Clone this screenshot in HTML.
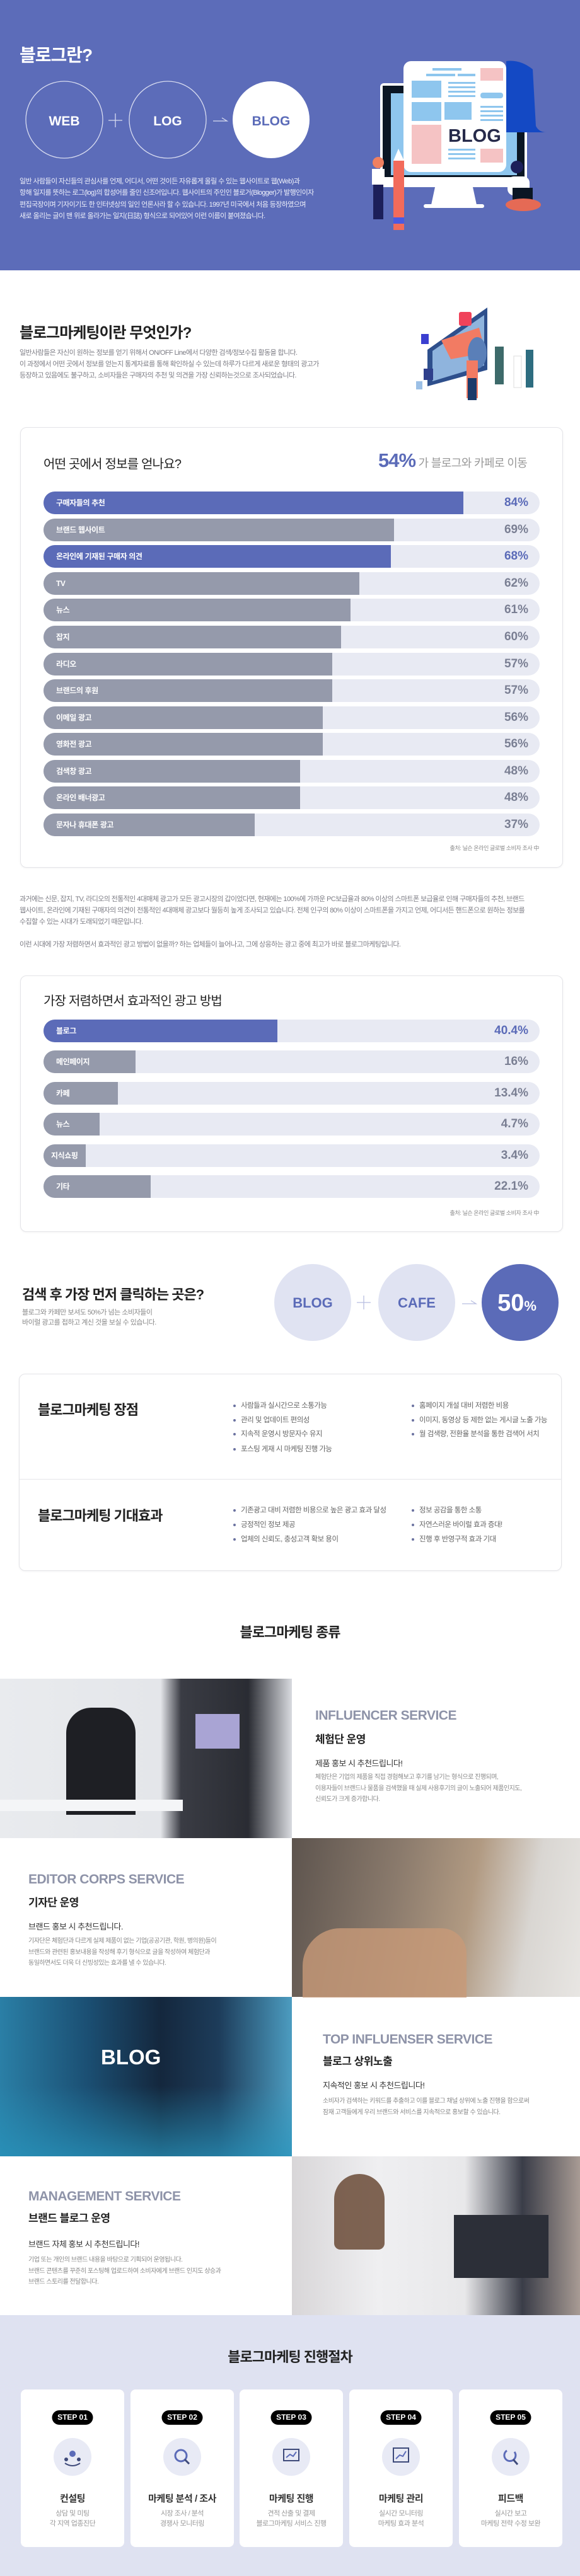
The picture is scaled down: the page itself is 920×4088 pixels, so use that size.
<!DOCTYPE html>
<html><head><meta charset="utf-8">
<style>
*{margin:0;padding:0;box-sizing:border-box}
body{width:920px;height:4088px;position:relative;background:#fff;font-family:"Liberation Sans","Noto Sans CJK KR",sans-serif;overflow:hidden}
.a{position:absolute;white-space:nowrap}
.hd{background:#5c6cb9;position:absolute;left:0;top:0;width:920px;height:429px}
.card{position:absolute;border:1px solid #e4e4e8;border-radius:10px;background:#fff;box-shadow:0 1px 3px rgba(0,0,0,.05)}
.tr{position:absolute;left:69px;width:787px;height:36px;border-radius:18px;background:#e8eaf3;overflow:hidden}
.fl{position:absolute;left:0;top:0;height:36px;background:#959aab}
.fl.b{background:#5b6bb8}
.lb{position:absolute;left:20px;top:0;line-height:36px;font-size:12px;color:#fff;font-weight:bold;letter-spacing:-0.4px}
.vl{position:absolute;right:18px;top:0;line-height:36px;font-size:19px;color:#7a7f93;font-weight:bold}
.vl.b{color:#5b6bb8}
.p{font-size:11px;color:#7d7d85;line-height:18px;letter-spacing:-0.6px}
.bl{font-size:11.5px;color:#666;line-height:18px;letter-spacing:-0.5px}
.bl:before{content:"";display:inline-block;width:4px;height:4px;border-radius:2px;background:#6b72a0;margin-right:8px;vertical-align:middle}
.st{font-size:21px;font-weight:bold;color:#8e93a8;letter-spacing:-0.5px}
.ss{font-size:17px;font-weight:bold;color:#222;letter-spacing:-0.5px}
.sr{font-size:13px;color:#333;letter-spacing:-0.5px}
.sd{font-size:10px;color:#888;line-height:17.5px;letter-spacing:-0.5px}
.sc{position:absolute;top:3792px;width:164px;height:250px;background:#fff;border-radius:8px}
.badge{position:absolute;left:50%;top:33px;transform:translateX(-50%);background:#000;color:#fff;font-size:12px;font-weight:bold;width:65px;height:23px;line-height:23px;border-radius:12px;text-align:center}
.ic{position:absolute;left:52px;top:77px;width:60px;height:60px;border-radius:30px;background:#e8eaf5}
.ct{position:absolute;left:0;width:164px;text-align:center;top:162px;font-size:15px;font-weight:bold;color:#333;letter-spacing:-0.5px}
.cd{position:absolute;left:0;width:164px;text-align:center;top:189px;font-size:11px;color:#999;line-height:16px;letter-spacing:-0.5px}
</style></head><body>

<div class="hd"></div>
<div class="a" style="left:31px;top:66px;font-size:28px;font-weight:bold;color:#fff;letter-spacing:-1px">블로그란?</div>
<svg class="a" style="left:0;top:0" width="920" height="430">
<circle cx="102" cy="190" r="61" fill="none" stroke="#d8dcf0" stroke-width="1.3"/>
<circle cx="266" cy="190" r="61" fill="none" stroke="#d8dcf0" stroke-width="1.3"/>
<circle cx="430" cy="190" r="61" fill="#fff"/>
<line x1="172" y1="191" x2="194" y2="191" stroke="#d8dcf0" stroke-width="1.3"/>
<line x1="183" y1="180" x2="183" y2="202" stroke="#d8dcf0" stroke-width="1.3"/>
<polyline points="338,192 360,192 352,187" fill="none" stroke="#d8dcf0" stroke-width="1.3"/>
<text x="102" y="199" font-size="21" font-weight="bold" fill="#fff" text-anchor="middle" font-family="Liberation Sans">WEB</text>
<text x="266" y="199" font-size="21" font-weight="bold" fill="#fff" text-anchor="middle" font-family="Liberation Sans">LOG</text>
<text x="430" y="199" font-size="21" font-weight="bold" fill="#5b6bb8" text-anchor="middle" font-family="Liberation Sans">BLOG</text>
<rect x="603" y="132" width="233" height="165" rx="6" fill="#fff"/>
<rect x="607" y="136" width="225" height="145" fill="#0b1624"/>
<rect x="620" y="148" width="200" height="130" fill="#8ec6ee"/>
<path d="M690 297 L750 297 L756 325 L684 325 Z" fill="#fff"/>
<rect x="672" y="324" width="96" height="6" rx="3" fill="#fff"/>
<path d="M803 97 Q825 94 845 110 L850 200 Q855 210 867 210 L803 210 Z" fill="#1449c4"/>
<rect x="640" y="97" width="163" height="176" rx="12" fill="#fff"/>
<rect x="653" y="128" width="47" height="27" fill="#8ec6ee"/>
<rect x="653" y="162" width="47" height="30" fill="#8ec6ee"/>
<rect x="705" y="162" width="43" height="28" fill="#8ec6ee"/>
<rect x="653" y="198" width="47" height="62" fill="#f5c3c4"/>
<rect x="762" y="108" width="36" height="20" fill="#f5c3c4"/>
<rect x="762" y="236" width="36" height="22" fill="#f5c3c4"/>
<g fill="#8ec6ee"><rect x="686" y="108" width="46" height="4"/><rect x="676" y="117" width="46" height="4"/><rect x="726" y="117" width="28" height="4"/>
<rect x="711" y="130" width="43" height="3"/><rect x="711" y="137" width="43" height="3"/><rect x="711" y="144" width="43" height="3"/><rect x="711" y="151" width="43" height="3"/>
<rect x="762" y="168" width="36" height="3"/><rect x="762" y="175" width="36" height="3"/><rect x="762" y="182" width="36" height="3"/><rect x="762" y="189" width="36" height="3"/>
<rect x="762" y="147" width="36" height="9" rx="4"/>
<rect x="711" y="236" width="43" height="3"/><rect x="711" y="243" width="43" height="3"/><rect x="711" y="250" width="43" height="3"/></g>
<text x="711" y="225" font-size="29" font-weight="bold" fill="#262a4a" font-family="Liberation Sans">BLOG</text>
<rect x="624" y="255" width="17" height="110" fill="#f26b5b"/>
<path d="M624 255 L632 236 L641 255 Z" fill="#fff"/><rect x="624" y="345" width="17" height="10" fill="#4b5ae0"/>
<circle cx="600" cy="258" r="9" fill="#f08060"/><rect x="590" y="268" width="20" height="25" fill="#fff"/><rect x="592" y="293" width="16" height="55" fill="#1c1f5a"/>
<circle cx="820" cy="265" r="10" fill="#1c1f5a"/><rect x="805" y="280" width="35" height="30" rx="10" fill="#fff"/>
<rect x="813" y="298" width="32" height="22" fill="#0b1624"/><ellipse cx="830" cy="325" rx="28" ry="10" fill="#e56a55"/>
</svg>
<div class="a" style="left:31px;top:279px;font-size:11px;color:#eef0fa;line-height:18.3px;letter-spacing:-0.6px">일반 사람들이 자신들의 관심사를 언제, 어디서, 어떤 것이든 자유롭게 올릴 수 있는 웹사이트로 웹(Web)과<br>항해 일지를 뜻하는 로그(log)의 합성어를 줄인 신조어입니다. 웹사이트의 주인인 블로거(Blogger)가 발행인이자<br>편집국장이며 기자이기도 한 인터넷상의 일인 언론사라 할 수 있습니다. 1997년 미국에서 처음 등장하였으며<br>새로 올리는 글이 맨 위로 올라가는 일지(日誌) 형식으로 되어있어 이런 이름이 붙여졌습니다.</div>

<div class="a" style="left:31px;top:508px;font-size:24px;font-weight:bold;color:#222;letter-spacing:-1px">블로그마케팅이란 무엇인가?</div>
<div class="a p" style="left:31px;top:551px">일반사람들은 자신이 원하는 정보를 얻기 위해서 ON/OFF Line에서 다양한 검색/정보수집 활동을 합니다.<br>이 과정에서 어떤 곳에서 정보를 얻는지 통계자료를 통해 확인하실 수 있는데 하루가 다르게 새로운 형태의 광고가<br>등장하고 있음에도 불구하고, 소비자들은 구매자의 추천 및 의견을 가장 신뢰하는것으로 조사되었습니다.</div>
<svg class="a" style="left:620px;top:460px" width="260" height="200">
<polygon points="58,95 153,28 153,127 58,153" fill="#2e4f8c"/>
<polygon points="66,97 148,40 148,120 66,145" fill="#8fb4dd"/>
<polygon points="80,80 140,60 150,100 95,110" fill="#f27b63"/>
<ellipse cx="137" cy="100" rx="15" ry="25" fill="#5a7fb8"/>
<rect x="108" y="35" width="20" height="22" rx="3" fill="#f0425a"/>
<rect x="52" y="125" width="15" height="18" fill="#2e3f8c"/><rect x="48" y="70" width="12" height="16" fill="#3b3fd0"/>
<rect x="120" y="112" width="18" height="60" fill="#f27b63"/><rect x="122" y="140" width="14" height="35" fill="#1b3a6a"/>
<rect x="165" y="90" width="14" height="60" fill="#3d6a6a"/><rect x="195" y="105" width="12" height="50" fill="#fff" stroke="#ddd"/>
<rect x="214" y="95" width="12" height="60" fill="#2e6d80"/>
<rect x="40" y="145" width="10" height="13" fill="#9cc0e6"/>
</svg>

<div class="card" style="left:32px;top:678px;width:861px;height:699px"></div>
<div class="a" style="left:69px;top:720px;font-size:20px;color:#222;letter-spacing:-0.8px">어떤 곳에서 정보를 얻나요?</div>
<div class="a" style="left:600px;top:713px;color:#999;font-size:18px;letter-spacing:-0.6px"><span style="font-size:31px;font-weight:bold;color:#5b6bb8;letter-spacing:-1px">54%</span> 가 블로그와 카페로 이동</div>

<div class="tr" style="top:780px"><div class="fl b" style="width:666px"></div><div class="lb">구매자들의 추천</div><div class="vl b">84%</div></div>
<div class="tr" style="top:823px"><div class="fl" style="width:556px"></div><div class="lb">브랜드 웹사이트</div><div class="vl">69%</div></div>
<div class="tr" style="top:865px"><div class="fl b" style="width:551px"></div><div class="lb">온라인에 기재된 구매자 의견</div><div class="vl b">68%</div></div>
<div class="tr" style="top:908px"><div class="fl" style="width:501px"></div><div class="lb">TV</div><div class="vl">62%</div></div>
<div class="tr" style="top:950px"><div class="fl" style="width:487px"></div><div class="lb">뉴스</div><div class="vl">61%</div></div>
<div class="tr" style="top:993px"><div class="fl" style="width:472px"></div><div class="lb">잡지</div><div class="vl">60%</div></div>
<div class="tr" style="top:1036px"><div class="fl" style="width:458px"></div><div class="lb">라디오</div><div class="vl">57%</div></div>
<div class="tr" style="top:1078px"><div class="fl" style="width:458px"></div><div class="lb">브랜드의 후원</div><div class="vl">57%</div></div>
<div class="tr" style="top:1121px"><div class="fl" style="width:443px"></div><div class="lb">이메일 광고</div><div class="vl">56%</div></div>
<div class="tr" style="top:1163px"><div class="fl" style="width:443px"></div><div class="lb">영화전 광고</div><div class="vl">56%</div></div>
<div class="tr" style="top:1206px"><div class="fl" style="width:407px"></div><div class="lb">검색창 광고</div><div class="vl">48%</div></div>
<div class="tr" style="top:1248px"><div class="fl" style="width:407px"></div><div class="lb">온라인 배너광고</div><div class="vl">48%</div></div>
<div class="tr" style="top:1291px"><div class="fl" style="width:335px"></div><div class="lb">문자나 휴대폰 광고</div><div class="vl">37%</div></div>
<div class="a" style="left:700px;width:155px;text-align:right;top:1339px;font-size:9px;color:#888;letter-spacing:-0.4px">출처: 닐슨 온라인 글로벌 소비자 조사 中</div>

<div class="a p" style="left:31px;top:1418px">과거에는 신문, 잡지, TV, 라디오의 전통적인 4대매체 광고가 모든 광고시장의 갑이었다면, 현재에는 100%에 가까운 PC보급율과 80% 이상의 스마트폰 보급율로 인해 구매자들의 추천, 브랜드<br>웹사이트, 온라인에 기재된 구매자의 의견이 전통적인 4대매체 광고보다 월등히 높게 조사되고 있습니다. 전체 인구의 80% 이상이 스마트폰을 가지고 언제, 어디서든 핸드폰으로 원하는 정보를<br>수집할 수 있는 시대가 도래되었기 때문입니다.</div>
<div class="a p" style="left:31px;top:1490px">이런 시대에 가장 저렴하면서 효과적인 광고 방법이 없을까? 하는 업체들이 늘어나고, 그에 상응하는 광고 중에 최고가 바로 블로그마케팅입니다.</div>

<div class="card" style="left:32px;top:1548px;width:861px;height:407px"></div>
<div class="a" style="left:69px;top:1572px;font-size:20px;color:#222;letter-spacing:-0.8px">가장 저렴하면서 효과적인 광고 방법</div>
<div class="tr" style="top:1618px"><div class="fl b" style="width:371px"></div><div class="lb">블로그</div><div class="vl b">40.4%</div></div>
<div class="tr" style="top:1667px"><div class="fl" style="width:146px"></div><div class="lb">메인페이지</div><div class="vl">16%</div></div>
<div class="tr" style="top:1717px"><div class="fl" style="width:118px"></div><div class="lb">카페</div><div class="vl">13.4%</div></div>
<div class="tr" style="top:1766px"><div class="fl" style="width:89px"></div><div class="lb">뉴스</div><div class="vl">4.7%</div></div>
<div class="tr" style="top:1816px"><div class="fl" style="width:67px"></div><div class="lb" style="left:12px">지식쇼핑</div><div class="vl">3.4%</div></div>
<div class="tr" style="top:1865px"><div class="fl" style="width:170px"></div><div class="lb">기타</div><div class="vl">22.1%</div></div>
<div class="a" style="left:700px;width:155px;text-align:right;top:1918px;font-size:9px;color:#888;letter-spacing:-0.4px">출처: 닐슨 온라인 글로벌 소비자 조사 中</div>

<div class="a" style="left:35px;top:2037px;font-size:22px;font-weight:bold;color:#222;letter-spacing:-1px">검색 후 가장 먼저 클릭하는 곳은?</div>
<div class="a" style="left:35px;top:2075px;font-size:11px;color:#888;line-height:16px;letter-spacing:-0.5px">블로그와 카페만 보셔도 50%가 넘는 소비자들이<br>바이럴 광고를 접하고 계신 것을 보실 수 있습니다.</div>
<svg class="a" style="left:420px;top:2000px" width="500" height="140">
<circle cx="76" cy="67" r="61" fill="#e0e3f2"/>
<circle cx="241" cy="67" r="61" fill="#e0e3f2"/>
<circle cx="405" cy="67" r="61" fill="#5b6bb8"/>
<line x1="146" y1="67" x2="168" y2="67" stroke="#b8bee0" stroke-width="1.3"/><line x1="157" y1="56" x2="157" y2="78" stroke="#b8bee0" stroke-width="1.3"/>
<polyline points="313,69 335,69 327,64" fill="none" stroke="#b8bee0" stroke-width="1.3"/>
<text x="76" y="75" text-anchor="middle" font-size="22" font-weight="bold" fill="#5b6bb8" font-family="Liberation Sans">BLOG</text>
<text x="241" y="75" text-anchor="middle" font-size="22" font-weight="bold" fill="#5b6bb8" font-family="Liberation Sans">CAFE</text>
<text x="400" y="80" text-anchor="middle" font-size="38" font-weight="bold" fill="#fff" font-family="Liberation Sans">50<tspan font-size="22">%</tspan></text>
</svg>

<div class="card" style="left:30px;top:2180px;width:861px;height:313px"></div>
<div class="a" style="left:30px;top:2347px;width:861px;height:1px;background:#e6e6ea"></div>
<div class="a" style="left:60px;top:2220px;font-size:22px;font-weight:bold;color:#222;letter-spacing:-1px">블로그마케팅 장점</div>
<div class="a bl" style="left:370px;top:2222px">사람들과 실시간으로 소통가능</div>
<div class="a bl" style="left:370px;top:2245px">관리 및 업데이트 편의성</div>
<div class="a bl" style="left:370px;top:2267px">지속적 운영시 방문자수 유지</div>
<div class="a bl" style="left:370px;top:2291px">포스팅 게재 시 마케팅 진행 가능</div>
<div class="a bl" style="left:653px;top:2222px">홈페이지 개설 대비 저렴한 비용</div>
<div class="a bl" style="left:653px;top:2245px">이미지, 동영상 등 제한 없는 게시글 노출 가능</div>
<div class="a bl" style="left:653px;top:2267px">월 검색량, 전환율 분석을 통한 검색어 서치</div>
<div class="a" style="left:60px;top:2388px;font-size:22px;font-weight:bold;color:#222;letter-spacing:-1px">블로그마케팅 기대효과</div>
<div class="a bl" style="left:370px;top:2388px">기존광고 대비 저렴한 비용으로 높은 광고 효과 달성</div>
<div class="a bl" style="left:370px;top:2411px">긍정적인 정보 제공</div>
<div class="a bl" style="left:370px;top:2434px">업체의 신뢰도, 충성고객 확보 용이</div>
<div class="a bl" style="left:653px;top:2388px">정보 공감을 통한 소통</div>
<div class="a bl" style="left:653px;top:2411px">자연스러운 바이럴 효과 증대!</div>
<div class="a bl" style="left:653px;top:2434px">진행 후 반영구적 효과 기대</div>

<div class="a" style="left:0;width:920px;text-align:center;top:2573px;font-size:22px;font-weight:bold;color:#222;letter-spacing:-1px">블로그마케팅 종류</div>

<div class="a" style="left:0;top:2664px;width:463px;height:253px;background:linear-gradient(90deg,#e9ebee 0%,#e4e6ea 55%,#3a3c44 62%,#2a2c33 85%,#d8dadf 100%)"></div>
<div class="a" style="left:105px;top:2710px;width:110px;height:170px;background:#1e1f24;border-radius:40px 40px 0 0"></div>
<div class="a" style="left:0;top:2856px;width:290px;height:18px;background:#f4f5f7"></div>
<div class="a" style="left:310px;top:2720px;width:70px;height:55px;background:#a9a4d4"></div>
<div class="a st" style="left:500px;top:2711px">INFLUENCER SERVICE</div>
<div class="a ss" style="left:500px;top:2746px">체험단 운영</div>
<div class="a sr" style="left:500px;top:2788px">제품 홍보 시 추천드립니다!</div>
<div class="a sd" style="left:500px;top:2812px">체험단은 기업의 제품을 직접 경험해보고 후기를 남기는 형식으로 진행되며,<br>이용자들이 브랜드나 물품을 검색했을 때 실제 사용후기의 글이 노출되어 제품인지도,<br>신뢰도가 크게 증가합니다.</div>

<div class="a" style="left:463px;top:2917px;width:457px;height:252px;background:linear-gradient(100deg,#5d544e 0%,#8a7a6c 35%,#b19a82 60%,#d9d6d2 80%,#e8e6e3 100%)"></div>
<div class="a" style="left:480px;top:3060px;width:260px;height:110px;background:#c89a78;border-radius:60px 40px 0 0;opacity:.8"></div>
<div class="a st" style="left:45px;top:2971px">EDITOR CORPS SERVICE</div>
<div class="a ss" style="left:45px;top:3005px">기자단 운영</div>
<div class="a sr" style="left:45px;top:3047px">브랜드 홍보 시 추천드립니다.</div>
<div class="a sd" style="left:45px;top:3072px">기자단은 체험단과 다르게 실제 제품이 없는 기업(공공기관, 학원, 병의원)들이<br>브랜드와 관련된 홍보내용을 작성해 후기 형식으로 글을 작성하여 체험단과<br>동일하면서도 더욱 더 신빙성있는 효과를 낼 수 있습니다.</div>

<div class="a" style="left:0;top:3169px;width:463px;height:253px;background:linear-gradient(90deg,#2a7fa6 0%,#1b4f73 30%,#14273d 55%,#1d3c5a 75%,#4c9cc0 100%)"></div>
<div class="a" style="left:0;top:3310px;width:463px;height:112px;background:linear-gradient(180deg,rgba(40,150,190,0) 0%,rgba(40,150,190,.7) 100%)"></div>
<div class="a" style="left:160px;top:3246px;font-size:33px;font-weight:bold;color:#fff">BLOG</div>
<div class="a st" style="left:512px;top:3225px">TOP INFLUENSER SERVICE</div>
<div class="a ss" style="left:512px;top:3257px">블로그 상위노출</div>
<div class="a sr" style="left:512px;top:3299px">지속적인 홍보 시 추천드립니다!</div>
<div class="a sd" style="left:512px;top:3326px">소비자가 검색하는 키워드를 추출하고 이를 블로그 채널 상위에 노출 진행을 함으로써<br>잠재 고객들에게 우리 브랜드와 서비스를 지속적으로 홍보할 수 있습니다.</div>

<div class="a" style="left:463px;top:3422px;width:457px;height:252px;background:linear-gradient(90deg,#d8d6d8 0%,#efeff1 30%,#e8e8ea 60%,#3a3d48 80%,#a89b94 100%)"></div>
<div class="a" style="left:530px;top:3450px;width:80px;height:120px;background:#6a4a36;border-radius:40px 40px 10px 10px;opacity:.85"></div>
<div class="a" style="left:720px;top:3515px;width:150px;height:100px;background:#2c2f38"></div>
<div class="a st" style="left:45px;top:3474px">MANAGEMENT SERVICE</div>
<div class="a ss" style="left:45px;top:3506px">브랜드 블로그 운영</div>
<div class="a sr" style="left:45px;top:3551px">브랜드 자체 홍보 시 추천드립니다!</div>
<div class="a sd" style="left:45px;top:3578px">기업 또는 개인의 브랜드 내용을 바탕으로 기획되어 운영됩니다.<br>브랜드 콘텐츠를 꾸준히 포스팅해 업로드하여 소비자에게 브랜드 인지도 상승과<br>브랜드 스토리를 전달합니다.</div>

<div class="a" style="left:0;top:3674px;width:920px;height:414px;background:#dfe2f1"></div>
<div class="a" style="left:0;width:920px;text-align:center;top:3723px;font-size:22px;font-weight:bold;color:#222;letter-spacing:-1px">블로그마케팅 진행절차</div>

<div class="sc" style="left:33px"><div class="badge">STEP 01</div><div class="ic"><svg width="60" height="60"><circle cx="30" cy="25" r="5" fill="#5b6bb8"/><circle cx="20" cy="34" r="3" fill="#3e4a7a"/><circle cx="40" cy="34" r="3" fill="#3e4a7a"/><path d="M18 40 Q30 48 42 40" stroke="#3e4a7a" stroke-width="2" fill="none"/></svg></div><div class="ct">컨설팅</div><div class="cd">상담 및 미팅<br>각 지역 업종진단</div></div>
<div class="sc" style="left:207px"><div class="badge">STEP 02</div><div class="ic"><svg width="60" height="60"><circle cx="28" cy="28" r="9" fill="none" stroke="#5b6bb8" stroke-width="3"/><line x1="34" y1="34" x2="41" y2="41" stroke="#3e4a7a" stroke-width="3"/></svg></div><div class="ct">마케팅 분석 / 조사</div><div class="cd">시장 조사 / 분석<br>경쟁사 모니터링</div></div>
<div class="sc" style="left:380px"><div class="badge">STEP 03</div><div class="ic"><svg width="60" height="60"><rect x="18" y="18" width="24" height="18" fill="none" stroke="#3e4a7a" stroke-width="2"/><polyline points="22,31 28,26 33,29 38,22" stroke="#5b6bb8" stroke-width="2" fill="none"/></svg></div><div class="ct">마케팅 진행</div><div class="cd">견적 산출 및 결제<br>블로그마케팅 서비스 진행</div></div>
<div class="sc" style="left:554px"><div class="badge">STEP 04</div><div class="ic"><svg width="60" height="60"><rect x="18" y="16" width="24" height="22" fill="none" stroke="#3e4a7a" stroke-width="2"/><polyline points="22,33 28,27 33,29 38,21" stroke="#5b6bb8" stroke-width="2" fill="none"/></svg></div><div class="ct">마케팅 관리</div><div class="cd">실시간 모니터링<br>마케팅 효과 분석</div></div>
<div class="sc" style="left:728px"><div class="badge">STEP 05</div><div class="ic"><svg width="60" height="60"><path d="M24 20 A9 9 0 1 0 36 22" stroke="#5b6bb8" stroke-width="3" fill="none"/><line x1="34" y1="34" x2="41" y2="42" stroke="#3e4a7a" stroke-width="3"/></svg></div><div class="ct">피드백</div><div class="cd">실시간 보고<br>마케팅 전략 수정 보완</div></div>
</body></html>
